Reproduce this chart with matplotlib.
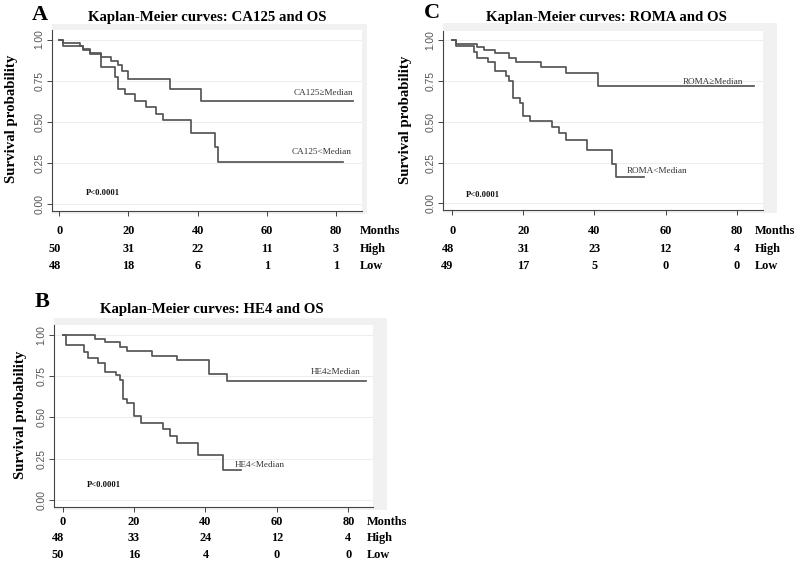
import matplotlib
matplotlib.use("Agg")
import matplotlib.pyplot as plt
from matplotlib.patches import Rectangle
from matplotlib.transforms import blended_transform_factory

# ---------------- data ----------------
months_ticks = [0, 20, 40, 60, 80]
yticks = [0.0, 0.25, 0.5, 0.75, 1.0]
ytick_labels = ["0.00", "0.25", "0.50", "0.75", "1.00"]

# Panel A: CA125
a_high_t = [0, 1, 6, 7, 9, 12, 15, 17, 18, 20, 32, 41]
a_high_s = [1.0, 0.98, 0.96, 0.94, 0.915, 0.895, 0.87, 0.845, 0.81, 0.763, 0.70, 0.63]
a_high_end = 85
a_low_t = [0, 1, 7, 9, 12, 16, 17, 19, 22, 25, 28, 30, 38, 45, 46]
a_low_s = [1.0, 0.958, 0.938, 0.917, 0.834, 0.77, 0.70, 0.667, 0.63, 0.59, 0.55, 0.51, 0.435, 0.35, 0.26]
a_low_end = 82
a_risk_high = [50, 31, 22, 11, 3]
a_risk_low = [48, 18, 6, 1, 1]

# Panel C: ROMA
c_high_t = [0, 1, 7, 9, 12, 16, 18, 25, 32, 41]
c_high_s = [1.0, 0.98, 0.96, 0.94, 0.92, 0.893, 0.868, 0.838, 0.803, 0.722]
c_high_end = 85
c_low_t = [0, 1, 6, 7, 10, 12, 15, 16, 17, 19, 20, 22, 28, 30, 32, 38, 45, 46]
c_low_s = [1.0, 0.966, 0.93, 0.893, 0.868, 0.813, 0.783, 0.752, 0.65, 0.614, 0.539, 0.508,
           0.468, 0.431, 0.39, 0.325, 0.245, 0.165]
c_low_end = 54
c_risk_high = [48, 31, 23, 12, 4]
c_risk_low = [49, 17, 5, 0, 0]

# Panel B: HE4
b_high_t = [0, 9, 12, 16, 18, 25, 32, 41, 46]
b_high_s = [1.0, 0.976, 0.955, 0.928, 0.904, 0.873, 0.847, 0.765, 0.72]
b_high_end = 85
b_low_t = [0, 1, 6, 7, 10, 12, 15, 16, 17, 18, 20, 22, 28, 30, 32, 38, 45]
b_low_s = [1.0, 0.94, 0.898, 0.857, 0.827, 0.775, 0.755, 0.724, 0.612, 0.586, 0.506, 0.469,
           0.43, 0.39, 0.347, 0.276, 0.184]
b_low_end = 50
b_risk_high = [48, 33, 24, 12, 4]
b_risk_low = [50, 16, 4, 0, 0]

# ---------------- figure ----------------
W, H = 800, 567
fig = plt.figure(figsize=(W / 100, H / 100), dpi=100)
fig.patch.set_facecolor("white")

SERIF = ["Liberation Serif", "DejaVu Serif"]
SANS = ["Liberation Sans", "DejaVu Sans"]
CURVE = "#555555"
GRAYBG = "#f1f1f1"


def fx(x):
    return x / W


def fy(y):
    return 1 - y / H


def make_panel(box, frame, xlim, ylim, letter, letter_xy, title, title_xy, ylab_xy,
               high, low, high_lab, low_lab, pval_xy, risk_high, risk_low,
               rows_y, months_x):
    l, r, t, b = box
    fl, fr, ft, fb = frame
    fig.patches.append(Rectangle((fx(fl), fy(fb)), fx(fr) - fx(fl), fy(ft) - fy(fb),
                                 transform=fig.transFigure, facecolor=GRAYBG,
                                 edgecolor="none", zorder=0))
    ax = fig.add_axes([fx(l), fy(b), fx(r) - fx(l), fy(t) - fy(b)])
    ax.set_zorder(1)
    ax.set_facecolor("white")
    ax.set_xlim(*xlim)
    ax.set_ylim(*ylim)
    for s in ["top", "right"]:
        ax.spines[s].set_visible(False)
    for s in ["left", "bottom"]:
        ax.spines[s].set_color("#444444")
        ax.spines[s].set_linewidth(0.8)
    ax.set_yticks(yticks)
    ax.set_yticklabels(ytick_labels, rotation=90, va="center",
                       family=SANS, fontsize=7.4, color="#555555")
    ax.set_xticks(months_ticks)
    ax.set_xticklabels([])
    ax.tick_params(axis="both", length=3.5, width=0.7, color="#444444", pad=2)
    for yv in yticks:
        ax.axhline(yv, color="#eeeeee", lw=0.8, zorder=0)

    for (tt, ss, end) in (high, low):
        ax.step(list(tt) + [end], list(ss) + [ss[-1]], where="post",
                color=CURVE, lw=1.25, zorder=3)

    (hx, hy, hha), (lx, ly, lha) = high_lab[1:], low_lab[1:]
    ax.text(hx, hy, high_lab[0], ha=hha, va="center", family=SERIF,
            fontsize=6.6, color="#333333")
    ax.text(lx, ly, low_lab[0], ha=lha, va="center", family=SERIF,
            fontsize=6.6, color="#333333")
    ax.text(pval_xy[0], pval_xy[1], "P<0.0001", ha="left", va="center",
            family=SERIF, fontweight="bold", fontsize=6.2, color="#111111")

    fig.text(fx(letter_xy[0]), fy(letter_xy[1]), letter, family=SERIF,
             fontweight="bold", fontsize=16, ha="center", va="center")
    fig.text(fx(title_xy[0]), fy(title_xy[1]), title, family=SERIF,
             fontweight="bold", fontsize=10.7, ha="center", va="center")
    fig.text(fx(ylab_xy[0]), fy(ylab_xy[1]), "Survival probability", family=SERIF,
             fontweight="bold", fontsize=10.7, ha="center", va="center",
             rotation=90)

    tr = blended_transform_factory(ax.transData, fig.transFigure)
    kw = dict(family=SERIF, fontweight="bold", fontsize=8.8, va="center",
              transform=tr, clip_on=False)
    for i, m in enumerate(months_ticks):
        fig.text(m, fy(rows_y[0]), str(m), ha="center", **kw)
        ha = "right" if i == 0 else "center"
        xoff = 0.4 if i == 0 else 0
        fig.text(m + xoff, fy(rows_y[1]), str(risk_high[i]), ha=ha, **kw)
        fig.text(m + xoff, fy(rows_y[2]), str(risk_low[i]), ha=ha, **kw)
    kw2 = dict(family=SERIF, fontweight="bold", fontsize=8.8, va="center", ha="left")
    fig.text(fx(months_x), fy(rows_y[0]), "Months", **kw2)
    fig.text(fx(months_x), fy(rows_y[1]), "High", **kw2)
    fig.text(fx(months_x), fy(rows_y[2]), "Low", **kw2)
    return ax


YL = (-0.04, 1.058)

make_panel(box=(52, 362, 30, 211), frame=(52, 367, 24, 214),
           xlim=(-2.1, 87.5), ylim=YL,
           letter="A", letter_xy=(40, 15),
           title="Kaplan-Meier curves: CA125 and OS", title_xy=(207, 17),
           ylab_xy=(12, 119),
           high=(a_high_t, a_high_s, a_high_end), low=(a_low_t, a_low_s, a_low_end),
           high_lab=("CA125\u2265Median", 84.9, 0.675, "right"),
           low_lab=("CA125<Median", 84.6, 0.316, "right"),
           pval_xy=(7.7, 0.067),
           risk_high=a_risk_high, risk_low=a_risk_low,
           rows_y=(231, 249, 266), months_x=360)

make_panel(box=(443, 763, 31, 210), frame=(443, 777, 23, 213),
           xlim=(-2.6, 87.4), ylim=YL,
           letter="C", letter_xy=(432, 13),
           title="Kaplan-Meier curves: ROMA and OS", title_xy=(606, 18),
           ylab_xy=(406, 120),
           high=(c_high_t, c_high_s, c_high_end), low=(c_low_t, c_low_s, c_low_end),
           high_lab=("ROMA\u2265Median", 81.8, 0.748, "right"),
           low_lab=("ROMA<Median", 49.2, 0.2, "left"),
           pval_xy=(3.9, 0.053),
           risk_high=c_risk_high, risk_low=c_risk_low,
           rows_y=(231, 249, 266), months_x=755)

make_panel(box=(54, 373, 325, 507), frame=(54, 387, 318, 510),
           xlim=(-2.4, 86.9), ylim=YL,
           letter="B", letter_xy=(42, 302),
           title="Kaplan-Meier curves: HE4 and OS", title_xy=(212, 310),
           ylab_xy=(21, 415),
           high=(b_high_t, b_high_s, b_high_end), low=(b_low_t, b_low_s, b_low_end),
           high_lab=("HE4\u2265Median", 83.3, 0.773, "right"),
           low_lab=("HE4<Median", 48.3, 0.216, "left"),
           pval_xy=(6.8, 0.092),
           risk_high=b_risk_high, risk_low=b_risk_low,
           rows_y=(522, 538, 555), months_x=367)

fig.savefig("out.png", dpi=100, facecolor="white")
